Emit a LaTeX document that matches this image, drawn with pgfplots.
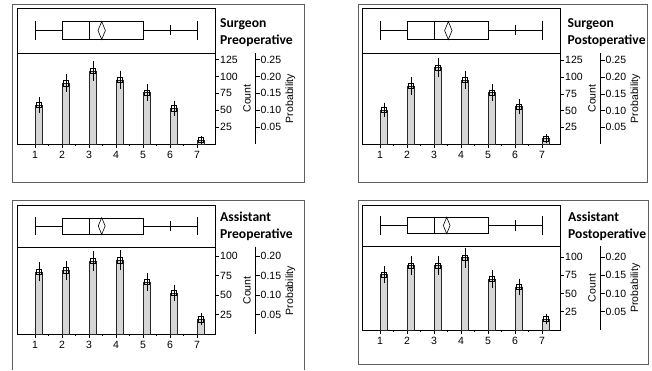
\documentclass[border=0pt]{standalone}
\usepackage{fontspec}
\setmainfont{Liberation Sans}
\newfontfamily\titlefont{Carlito}
\usepackage{pgfplots}
\pgfplotsset{compat=1.18}
\usepackage{pgfplotstable}
\usepgfplotslibrary{statistics}
\definecolor{barfill}{RGB}{214,214,214}
\definecolor{framegray}{RGB}{95,95,95}
\newcommand\tickfont{\fontsize{10.5}{12}\selectfont}
\newcommand\ttlfont{\titlefont\bfseries\fontsize{13.6}{16}\selectfont}

\pgfplotstableread{
x c e
1 58 7.6
2 90 9.5
3 108 10.4
4 95 9.7
5 76 8.7
6 53 7.3
7 6 2.4
}\tabA
\pgfplotstableread{
x c e
1 51 7.1
2 87 9.3
3 114 10.7
4 96 9.8
5 77 8.8
6 56 7.5
7 8 2.8
}\tabB
\pgfplotstableread{
x c e
1 80 8.9
2 82 9.1
3 94 9.7
4 95 9.7
5 67 8.2
6 53 7.3
7 19 4.4
}\tabC
\pgfplotstableread{
x c e
1 76 8.7
2 88 9.4
3 88 9.4
4 99 9.9
5 70 8.4
6 59 7.7
7 15 3.9
}\tabD

\pgfplotsset{
 panelbase/.style={scale only axis, width=198pt, xmin=0.333, xmax=7.667,
   axis line style={black, line width=0.7pt},
   /pgf/number format/assume math mode=true,
   tick label style={font=\tickfont},
   tick style={black, line width=0.6pt}},
}

% #1 ox, #2 ytop, #3 ysep, #4 ybot, #5 count ymax, #6 count ticks, #7 prob ticks, #8 table, #9 mean
\newcommand\panel[9]{%
 \pgfmathsetmacro\L{17+#1}%
 \pgfmathsetmacro\P{255.5+#1}%
 \pgfmathsetmacro\Ys{370-#3}%
 \pgfmathsetmacro\Yb{370-#4}%
 \pgfmathsetmacro\Hb{#3-#2}%
 \pgfmathsetmacro\Hh{#4-#3}%
 \pgfmathsetmacro\Hm{\Hb/2}%
 \pgfmathsetmacro\Bx{0.39*\Hb}%
 \pgfmathsetmacro\Wx{0.44*\Hb}%
 \pgfmathsetmacro\Dm{0.2*\Hb}%
 \pgfmathsetmacro\Pmax{#5/500}%
 \begin{axis}[panelbase, at={(\L pt,\Ys pt)}, anchor=south west, height=\Hb pt,
   ymin=-\Hm, ymax=\Hm, xtick=\empty, ytick=\empty]
  \addplot[black, line width=0.6pt, boxplot prepared={lower whisker=1, lower quartile=2,
    median=3, upper quartile=5, upper whisker=7, draw position=0, box extend=\Bx,
    whisker extend=\Wx}] coordinates {};
  \addplot[only marks, mark=|, mark size=5pt, black, line width=0.6pt] coordinates {(6,0)};
  \addplot[only marks, mark=diamond, mark size=\Dm pt,
    mark options={xscale=0.55, fill=white, draw=black, line width=0.6pt}] coordinates {(#9,0)};
 \end{axis}
 \begin{axis}[panelbase, at={(\L pt,\Yb pt)}, anchor=south west, height=\Hh pt,
   ymin=0, ymax=#5, xtick={1,...,7}, minor x tick num=1, xtick pos=bottom,
   ytick={#6}, ytick pos=right, yticklabel pos=right, tick align=outside,
   major tick length=4pt, minor tick length=2pt,
   yticklabel style={inner xsep=1pt}, clip=false]
  \addplot[ybar, bar width=7.5pt, bar shift=0pt, fill=barfill, draw=black!85, line width=0.5pt]
    table[x expr=\thisrow{x}+0.14, y=c] {#8};
  \addplot[only marks, mark=square, mark size=2.6pt, mark options={black, line width=0.5pt},
    error bars/.cd, y dir=both, y explicit,
    error bar style={black, line width=0.5pt},
    error mark options={black, mark size=2.6pt, line width=0.5pt}]
    table[x expr=\thisrow{x}+0.14, y=c, y error=e] {#8};
  \node[rotate=90, font=\tickfont] at ([xshift=32pt]rel axis cs:1,0.5) {Count};
 \end{axis}
 \begin{axis}[scale only axis, at={(\P pt,\Yb pt)}, anchor=south east, width=10pt, height=\Hh pt,
   xmin=0, xmax=1, ymin=0, ymax=\Pmax, axis x line=none, axis y line*=right,
   ytick={#7}, tick align=outside, major tick length=4pt, scaled y ticks=false,
   axis line style={black, line width=0.7pt}, tick style={black, line width=0.6pt},
   /pgf/number format/assume math mode=true, tick label style={font=\tickfont},
   y tick label style={/pgf/number format/.cd, fixed, fixed zerofill, precision=2, /tikz/.cd, inner xsep=1pt},
   clip=false]
  \node[rotate=90, font=\tickfont] at ([xshift=35pt]rel axis cs:1,0.5) {Probability};
 \end{axis}
}

\begin{document}
\begin{tikzpicture}
\path[use as bounding box] (0pt,0pt) rectangle (652pt,370pt);
% frames
\draw[framegray, line width=0.8pt] (12pt,366pt) rectangle (304pt,188pt);
\draw[framegray, line width=0.8pt] (358pt,366pt) rectangle (647pt,188pt);
\draw[framegray, line width=0.8pt] (12pt,0pt) -- (12pt,170pt) -- (304pt,170pt) -- (304pt,0pt);
\draw[framegray, line width=0.8pt] (358pt,6pt) rectangle (648pt,170pt);

\panel{0}{8}{53}{144}{134.6}{25,50,75,100,125}{0.05,0.10,0.15,0.20,0.25}{\tabA}{3.47}
\panel{345}{8}{53}{144}{136}{25,50,75,100,125}{0.05,0.10,0.15,0.20,0.25}{\tabB}{3.53}
\panel{0}{205}{247}{334}{112}{25,50,75,100}{0.05,0.10,0.15,0.20}{\tabC}{3.47}
\panel{345}{205}{246}{330}{115}{25,50,75,100}{0.05,0.10,0.15,0.20}{\tabD}{3.47}

\node[anchor=base west, font=\ttlfont, inner sep=0pt] at (220pt,342.7pt) {Surgeon};
\node[anchor=base west, font=\ttlfont, inner sep=0pt] at (220pt,325pt) {Preoperative};
\node[anchor=base west, font=\ttlfont, inner sep=0pt] at (567.5pt,342.7pt) {Surgeon};
\node[anchor=base west, font=\ttlfont, inner sep=0pt] at (567.5pt,325pt) {Postoperative};
\node[anchor=base west, font=\ttlfont, inner sep=0pt] at (220pt,148.3pt) {Assistant};
\node[anchor=base west, font=\ttlfont, inner sep=0pt] at (220pt,131.7pt) {Preoperative};
\node[anchor=base west, font=\ttlfont, inner sep=0pt] at (568pt,148.3pt) {Assistant};
\node[anchor=base west, font=\ttlfont, inner sep=0pt] at (568pt,131.7pt) {Postoperative};
\end{tikzpicture}
\end{document}
